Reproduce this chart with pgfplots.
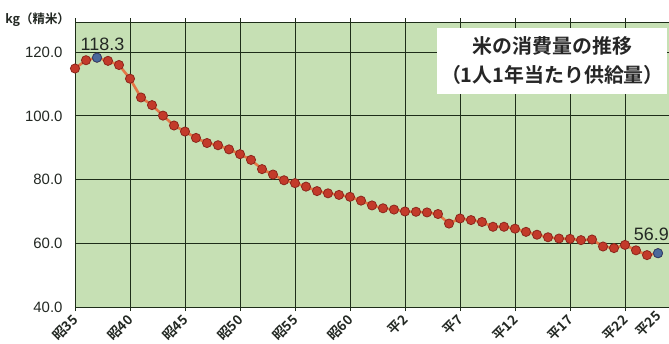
\documentclass[border=0pt]{standalone}
\usepackage{fontspec}
\setmainfont{Liberation Sans}
\newfontfamily\cjk[BoldFont={Noto Sans CJK JP Bold}]{Noto Sans CJK JP}
\usepackage{pgfplots}
\usepackage{pgfplotstable}
\pgfplotsset{compat=1.18}
\definecolor{bgg}{RGB}{198,224,180}
\definecolor{gridc}{RGB}{30,45,25}
\definecolor{linec}{RGB}{228,118,70}
\definecolor{markc}{RGB}{195,58,42}
\definecolor{markd}{RGB}{140,38,28}
\definecolor{bluec}{RGB}{75,105,155}
\definecolor{blued}{RGB}{45,65,110}
\definecolor{labc}{RGB}{35,40,35}
\pgfplotstableread{
year val
1960 114.9
1961 117.5
1962 118.3
1963 117.3
1964 116.0
1965 111.7
1966 105.8
1967 103.4
1968 100.1
1969 97.0
1970 95.1
1971 93.1
1972 91.5
1973 90.8
1974 89.5
1975 88.0
1976 86.2
1977 83.3
1978 81.6
1979 79.8
1980 78.9
1981 77.8
1982 76.4
1983 75.7
1984 75.2
1985 74.6
1986 73.4
1987 71.9
1988 71.0
1989 70.6
1990 70.0
1991 69.9
1992 69.7
1993 69.2
1994 66.2
1995 67.8
1996 67.3
1997 66.7
1998 65.2
1999 65.2
2000 64.6
2001 63.6
2002 62.7
2003 61.9
2004 61.5
2005 61.4
2006 61.0
2007 61.2
2008 59.0
2009 58.5
2010 59.5
2011 57.8
2012 56.3
2013 56.9
}\ricedata
\begin{document}
\begin{tikzpicture}
\begin{axis}[
  name=ax,
  scale only axis, width=594bp, height=285bp,
  xmin=1960, xmax=2014, ymin=40, ymax=129.5,
  axis background/.style={fill=bgg},
  axis x line=box, axis y line=left,
  x axis line style={-, draw=gridc, line width=1bp},
  y axis line style={-, draw=gridc, line width=1bp},
  grid=major,
  major grid style={draw=gridc, line width=1bp},
  xtick={1960,1965,...,2010},
  xticklabels={昭35,昭40,昭45,昭50,昭55,昭60,平2,平7,平12,平17,平22},
  extra x ticks={2013},
  extra x tick labels={平25},
  extra x tick style={grid=none, major tick length=0pt},
  ytick={40,60,...,120},
  xtick align=outside,
  x tick style={draw=gridc, line width=1bp},
  major tick length=4bp,
  ytick style={draw=none},
  xticklabel style={font=\cjk\bfseries\fontsize{13.5}{13.5}\selectfont, xshift=3bp, yshift=-4bp, rotate=45, anchor=east, text=labc},
  yticklabel style={font=\fontsize{15}{15}\selectfont, text=labc, xshift=-7bp},
  /pgf/number format/.cd, fixed, fixed zerofill, precision=1, assume math mode=true,
  /pgfplots/.cd,
  clip=false,
]
\addplot[draw=linec, line width=2.6bp, mark=*, mark size=4.6pt,
  mark options={fill=markc, draw=markd, line width=0.8bp}] table[x=year, y=val] {\ricedata};
\addplot[only marks, mark=*, mark size=4.6pt,
  mark options={fill=bluec, draw=blued, line width=0.8bp}] coordinates {(1962,118.3) (2013,56.9)};
\node[font=\fontsize{18}{18}\selectfont, text=labc] at (axis cs:1962.5,122.4) {118.3};
\node[font=\fontsize{18}{18}\selectfont, text=labc] at (axis cs:2012.4,62.9) {56.9};
\node[fill=white, minimum width=230bp, minimum height=66bp, align=center,
  font=\cjk\bfseries\fontsize{20}{29}\selectfont, text=black!85] at (axis cs:2003.4,117.4)
  {米の消費量の推移\\（1人1年当たり供給量）};
\node[font=\cjk\bfseries\fontsize{12.5}{12.5}\selectfont, text=labc] at (axis cs:1956.6,130.3) {kg（精米）};
\end{axis}
\pgfresetboundingbox
\path ([shift={(-75bp,-36bp)}]ax.south west) rectangle ([shift={(0bp,22bp)}]ax.north east);
\end{tikzpicture}
\end{document}
